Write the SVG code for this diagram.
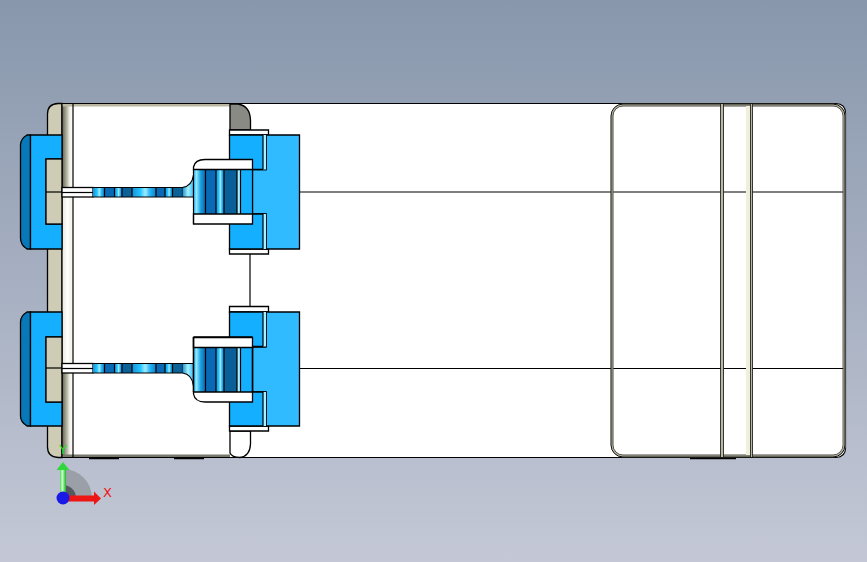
<svg xmlns="http://www.w3.org/2000/svg" width="867" height="562" viewBox="0 0 867 562">
<defs>
<linearGradient id="bg" x1="0" y1="0" x2="0" y2="1"><stop offset="0" stop-color="#8897ac"/><stop offset="1" stop-color="#c4c8d6"/></linearGradient>
<linearGradient id="bandD" x1="0" x2="1" y1="0" y2="0"><stop offset="0" stop-color="#5f5f58"/><stop offset=".45" stop-color="#b9b7a2"/><stop offset=".7" stop-color="#f0efe6"/><stop offset="1" stop-color="#ffffff"/></linearGradient>
<linearGradient id="bandL" x1="0" x2="1" y1="0" y2="0"><stop offset="0" stop-color="#e9e7d8"/><stop offset=".5" stop-color="#ffffff"/><stop offset=".8" stop-color="#f4f3e6"/><stop offset="1" stop-color="#ffffff"/></linearGradient>
<linearGradient id="sh" x1="0" x2="1" y1="0" y2="0"><stop offset="0" stop-color="#1590d8"/><stop offset=".35" stop-color="#25c4ff"/><stop offset=".55" stop-color="#9fecff"/><stop offset=".75" stop-color="#25b4f5"/><stop offset="1" stop-color="#1080c8"/></linearGradient>
<linearGradient id="fl" x1="0" x2="1" y1="0" y2="0"><stop offset="0" stop-color="#1a8fd0"/><stop offset=".5" stop-color="#a8f2ff"/><stop offset="1" stop-color="#30bcff"/></linearGradient>
<linearGradient id="mid" x1="0" x2="1" y1="0" y2="0"><stop offset="0" stop-color="#28b8f5"/><stop offset=".25" stop-color="#8ee8ff"/><stop offset=".6" stop-color="#1a9fe0"/><stop offset="1" stop-color="#0a66ac"/></linearGradient>
<linearGradient id="gx" x1="0" x2="1" y1="0" y2="0"><stop offset="0" stop-color="#55d860"/><stop offset=".4" stop-color="#c8ffc8"/><stop offset="1" stop-color="#17b524"/></linearGradient>
<g id="strip">
<rect x="93" y="-4.5" width="90" height="9.5" fill="#0a69b5"/>
<rect x="93" y="-4.5" width="11.5" height="9.5" fill="url(#sh)"/>
<rect x="114.5" y="-4.5" width="7.5" height="9.5" fill="url(#sh)"/>
<rect x="122" y="-4.5" width="10" height="9.5" fill="#0a6299"/>
<rect x="132" y="-4.5" width="24" height="9.5" fill="url(#sh)"/>
<rect x="165" y="-4.5" width="7.5" height="9.5" fill="url(#sh)"/>
<rect x="172.5" y="-4.5" width="10" height="9.5" fill="#0a6299"/>
<path class="ln" d="M104.5-4.5V5M114.5-4.5V5M122-4.5V5M132-4.5V5M156-4.5V5M165-4.5V5M172.5-4.5V5M182.5-4.5V5"/>
</g>
<g id="midband">
<rect x="193.5" y="0" width="59" height="44.5" fill="#14b0ff"/>
<rect x="193.5" y="0" width="12" height="44.5" fill="url(#mid)"/>
<rect x="205.5" y="0" width="10.5" height="44.5" fill="#0a69b5"/>
<rect x="216" y="0" width="8" height="44.5" fill="url(#sh)"/>
<rect x="224" y="0" width="13" height="44.5" fill="#0a5f99"/>
<rect x="237" y="0" width="3.5" height="44.5" fill="#a8f0ff"/>
<path class="ln" d="M205.5 0V44.5M216 0V44.5M224 0V44.5M237 0V44.5M240.5 0V44.5"/>
</g>
</defs>
<style>
.ln{fill:none;stroke:#000;stroke-width:1.2}
.o{stroke:#000;stroke-width:1.3}
.c1{fill:#14b0ff}.c2{fill:#30baff}.c3{fill:#0878b8}.b{fill:#cfccb5}.w{fill:#fff}
text{font-family:"DejaVu Sans",sans-serif;font-size:13px}
</style>
<rect width="867" height="562" fill="url(#bg)"/>
<g id="body">
<path class="b o" d="M62 103.5H58Q47.500 104 47.500 114V447Q47.500 457 58 457.500H62Z"/>
<rect x="62" y="103.5" width="783.500" height="354" rx="9" fill="#fff"/>
<rect x="62" y="103.5" width="11" height="84" fill="url(#bandD)"/>
<rect x="62" y="197" width="11" height="166" fill="url(#bandL)"/>
<rect x="62" y="373" width="11" height="84" fill="url(#bandD)"/>
<rect x="62" y="104" width="168" height="2.5" fill="#b9b7a2"/>
<rect x="62" y="454.5" width="168" height="2.5" fill="#77776c"/>
<path class="ln" d="M62 104V457M73 104V457"/>
<path class="ln" d="M62 103.5H836Q845.500 104 845.500 113V448Q845.500 457 836 457.500H62"/>
<path d="M89 458.500H119M174 458.500H204M690 458.500H736" stroke="#000" stroke-width="1.5" fill="none"/>
</g>
<g id="connectors">
<path class="ln" d="M299.500 192H845M299.500 368.500H845M250 254V306"/>
</g>
<g id="panel">
<rect x="612" y="105" width="232.500" height="351" rx="11" fill="none" stroke="#b9b7a2" stroke-width="2.5"/>
<rect x="611" y="104" width="234" height="353" rx="12" fill="none" stroke="#000" stroke-width=".9"/>
<rect x="613" y="106" width="230" height="349" rx="10" fill="none" stroke="#333" stroke-width=".8"/>
<rect x="721" y="104" width="2.5" height="353" fill="#b9b7a2"/>
<rect x="746" y="106" width="4" height="349" fill="#f0efdc"/>
<rect x="750.500" y="104" width="2" height="353" fill="#b9b7a2"/>
<path d="M720.500 104V457M723.500 104V457M750.500 104V457M752.500 104V457" fill="none" stroke="#222" stroke-width=".9"/>
</g>
<g id="stop-top">
<path d="M230 130V104H238Q250 106 250.500 120V130Z" fill="#8a8a85" class="o"/>
</g>
<g id="stop-bottom">
<path class="w o" d="M230 431V453Q232 457.500 240 457.500Q250 456 250.500 444V431Z"/>
</g>
<g id="clip-upper-left">
<path class="c3 o" d="M30.500 135H27Q20.500 139 20.500 145V238Q20.500 245 27 249H30.500Z"/>
<path class="c1 o" d="M30.500 135H62V159H46V224H62V249H30.500Z"/>
<rect class="b o" x="46" y="159" width="16" height="65"/>
<path class="ln" d="M46 192H62"/>
<rect class="w o" x="62" y="187.5" width="31" height="9.5"/>
<path class="ln" d="M62 192.500H93"/>
</g>
<g id="clip-lower-left">
<path class="c3 o" d="M30.500 312H27Q20.500 316 20.500 322V416Q20.500 422 27 426H30.500Z"/>
<path class="c1 o" d="M30.500 312H62V337H46V402H62V426H30.500Z"/>
<rect class="b o" x="46" y="337" width="16" height="65"/>
<path class="ln" d="M46 368H62"/>
<rect class="w o" x="62" y="363.5" width="31" height="9.5"/>
<path class="ln" d="M62 368.500H93"/>
</g>
<g id="strip-upper">
<use href="#strip" transform="translate(0 192)"/>
<path d="M182.500 197V187Q192 186 193.500 175V197Z" fill="url(#fl)"/>
<path class="ln" d="M93 187.500H182.500Q192 186 193.500 175M93 197H193.500"/>
</g>
<g id="strip-lower">
<use href="#strip" transform="translate(0 368)"/>
<path d="M182.500 363.500V373Q192 374 193.500 386V363.500Z" fill="url(#fl)"/>
<path class="ln" d="M93 363.500H193.500M93 373H182.500Q192 374 193.500 386"/>
</g>
<g id="latch-upper">
<path class="w o" d="M229.500 130H268.500V135H229.500ZM229.500 249H268.500V254H229.500Z"/>
<path class="c2 o" d="M266 135H299.500V249H266V214H252.500V169.500H266Z"/>
<path class="c1 o" d="M229.500 135H266V169.500H229.500ZM229.500 214H266V249H229.500Z"/>
<rect x="263" y="135" width="3" height="34.5" fill="#a8f0ff"/><rect x="263" y="214" width="3" height="35" fill="#a8f0ff"/>
<path class="ln" d="M263 135V169.500M263 214V249"/>
<use href="#midband" transform="translate(0 169.5)"/>
<path class="w o" d="M193.500 169.500V167Q195 159.500 205 159.500H252.500V169.500ZM193.500 214H252.500V224H193.500Z"/>
<path class="ln" d="M193.500 169.500V224M252.500 169.500V214"/>
</g>
<g id="latch-lower">
<path class="w o" d="M229.500 306.500H268.500V312H229.500ZM229.500 426H268.500V431H229.500Z"/>
<path class="c2 o" d="M266 312H299.500V426H266V392H252.500V347H266Z"/>
<path class="c1 o" d="M229.500 312H266V346.500H229.500ZM229.500 392H266V426H229.500Z"/>
<rect x="263" y="312" width="3" height="34.5" fill="#a8f0ff"/><rect x="263" y="392" width="3" height="34" fill="#a8f0ff"/>
<path class="ln" d="M263 312V346.500M263 392V426"/>
<use href="#midband" transform="translate(0 347.5)"/>
<path class="w o" d="M193.500 337.500H252.500V347.500H193.500ZM193.500 392H252.500V402H205Q195 402 193.500 394Z"/>
<path d="M193.500 337V392M252.500 347V392M193.500 337H252.500" fill="none" stroke="#000" stroke-width="1.6"/>
</g>
<g id="triad">
<path d="M63 498V469A29 29 0 0 1 92 498Z" fill="#9a9fa8"/>
<path d="M63 498V485A13 13 0 0 1 76 498Z" fill="#55585e"/>
<rect x="60" y="470" width="6" height="28" fill="url(#gx)"/>
<path d="M56.500 470L63 462L69.500 470Z" fill="#2fd83a"/>
<rect x="63" y="495.5" width="31" height="6" fill="#ee1515"/>
<path d="M94 491.500L101 498.500L94 505Z" fill="#ee1515"/>
<circle cx="63" cy="498" r="6.5" fill="#1a1ae6"/>
<text x="103" y="497" fill="#ee1515">X</text>
<text x="59" y="454" fill="#22e022">Y</text>
</g>
</svg>
